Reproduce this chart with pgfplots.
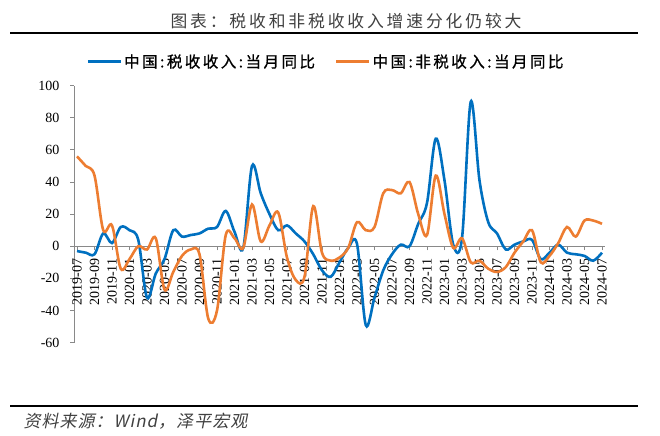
\documentclass[border=0pt]{standalone}
\usepackage{fontspec}
\usepackage{pgfplots}
\pgfplotsset{compat=1.18}
\setmainfont{Liberation Serif}
\newfontfamily\tnr{Liberation Serif}
\newfontfamily\cjkt[LetterSpace=17]{Noto Sans CJK SC}
\newfontfamily\cjkl[LetterSpace=16,FakeBold=0.8]{Noto Sans CJK SC}
\newfontfamily\cjks[FakeSlant=0.2,LetterSpace=6]{Noto Sans CJK SC}
\definecolor{cblue}{HTML}{0070C0}
\definecolor{corange}{HTML}{ED7D31}
\definecolor{axgray}{HTML}{898989}
\definecolor{titlegray}{HTML}{404040}
\begin{document}
\begin{tikzpicture}
\path[use as bounding box] (0,0) rectangle (660bp,436bp);
\draw[line width=2bp] (10bp,403bp) -- (638bp,403bp);
\node[text=titlegray, font=\cjkt\fontsize{16.8bp}{18bp}\selectfont] at (346bp,414.5bp) {图表：税收和非税收收入增速分化仍较大};
\draw[line width=2bp] (10bp,30bp) -- (638bp,30bp);
\node[anchor=west, text=titlegray, font=\cjks\fontsize{17bp}{19bp}\selectfont] at (20bp,15bp) {资料来源：Wind，泽平宏观};
\begin{axis}[
 at={(74bp,93.4bp)}, anchor=south west,
 scale only axis, width=531bp, height=256.9bp,
 xmin=-0.343, xmax=60.343, ymin=-60, ymax=100,
 axis x line=middle, axis y line=left,
 axis line style={draw=axgray, line width=0.9bp, -},
 xtick={0,2,...,60},
 xticklabels={2019-07,2019-09,2019-11,2020-01,2020-03,2020-05,2020-07,2020-09,2020-11,2021-01,2021-03,2021-05,2021-07,2021-09,2021-11,2022-01,2022-03,2022-05,2022-07,2022-09,2022-11,2023-01,2023-03,2023-05,2023-07,2023-09,2023-11,2024-01,2024-03,2024-05,2024-07},
 ytick={-60,-40,...,100},
 tick align=outside, major tick length=4bp,
 tick style={draw=axgray, line width=0.9bp},
 hide obscured x ticks=false, hide obscured y ticks=false,
 ticklabel style={font=\tnr\fontsize{14bp}{16bp}\selectfont, text=black},
 /pgf/number format/assume math mode=true,
 xticklabel style={rotate=90, anchor=east, xshift=-5bp},
 yticklabel style={xshift=-7bp},
 clip=false,
 legend style={at={(axis description cs:0.5,1)}, anchor=center, xshift=-13.5bp, yshift=24bp,
   draw=none, fill=none, legend columns=2,
   font=\cjkl\fontsize{15.5bp}{17bp}\selectfont,
   /tikz/every even column/.append style={column sep=18bp}},
 legend image code/.code={\draw[#1] (0bp,0bp) -- (33bp,0bp);},
]
\addplot[cblue, line width=2.6bp, smooth, tension=0.55] coordinates {
(0,-3)(1,-4)(2,-5)(3,8)(4,2)(5,12)(6,10)(7,4)(8,-32)(9,-17)
(10,-8)(11,10)(12,6)(13,7)(14,8)(15,11)(16,12)(17,22)(18,9)(19,-1)
(20,50)(21,33)(22,20)(23,10)(24,13)(25,8)(26,3)(27,-5)(28,-15)(29,-19)
(30,-10)(31,-1)(32,1.5)(33,-49)(34,-32)(35,-15)(36,-5)(37,1)(38,0)(39,14)
(40,27)(41,67)(42,41)(43,1)(44,5)(45,90)(46,41)(47,15)(48,8)(49,-2)
(50,1)(51,3)(52,4)(53,-8)(54,-4)(55,1)(56,-4)(57,-5)(58,-6)(59,-9)(60,-4)
};
\addlegendentry{中国:税收收入:当月同比}
\addplot[corange, line width=2.6bp, smooth, tension=0.55] coordinates {
(0,56)(1,50)(2,44)(3,10)(4,13)(5,-14)(6,-8)(7,0)(8,-2)(9,5)
(10,-27)(11,-16)(12,-6)(13,-2)(14,-5)(15,-45)(16,-40)(17,7)(18,5)(19,-1)
(20,26)(21,3)(22,13)(23,21)(24,-7)(25,-21)(26,-19)(27,25)(28,-4)(29,-9)
(30,-7)(31,-1)(32,15)(33,10)(34,12)(35,33)(36,35)(37,33)(38,40)(39,20)
(40,7)(41,44)(42,20)(43,-1)(44,5)(45,-10)(46,-9)(47,-14)(48,-16)(49,-13)
(50,-4)(51,3)(52,10)(53,-10)(54,-6)(55,2)(56,12)(57,6)(58,16)(59,16)(60,14)
};
\addlegendentry{中国:非税收入:当月同比}
\end{axis}
\end{tikzpicture}
\end{document}
